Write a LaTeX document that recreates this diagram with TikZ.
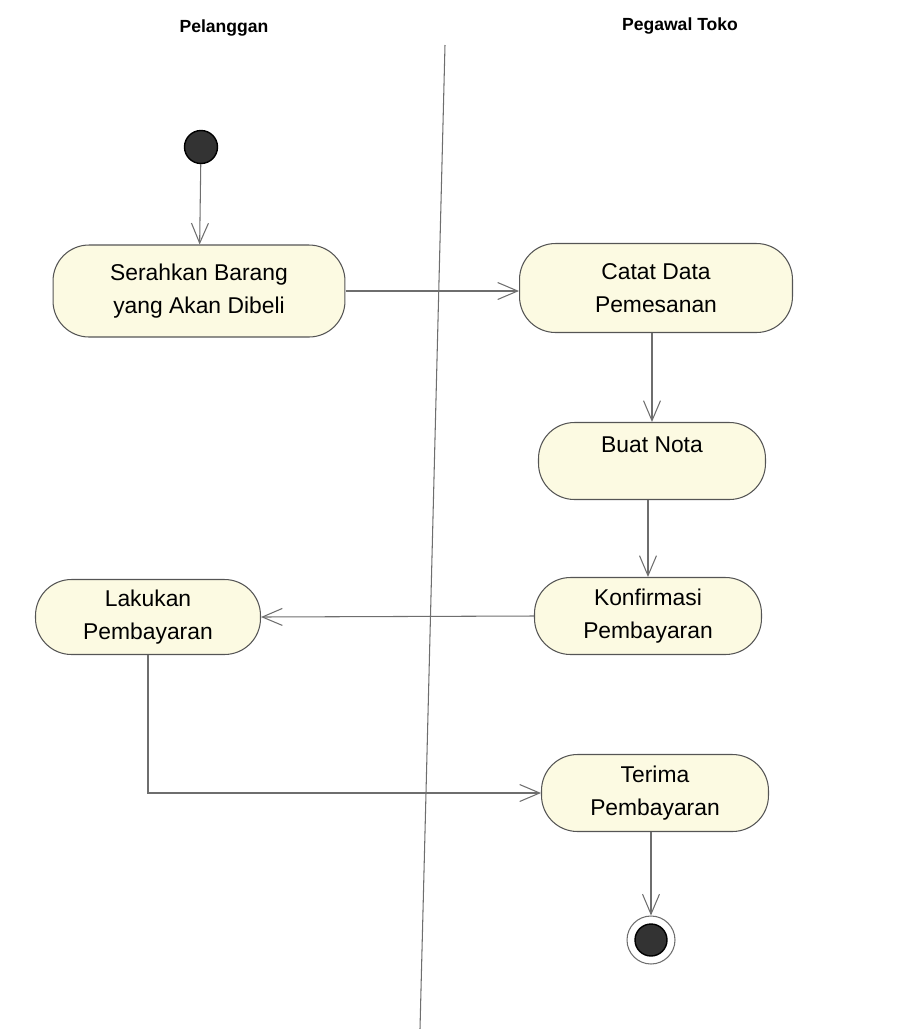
\documentclass[tikz,border=0pt]{standalone}
\usepackage{fontspec}
\setmainfont{Liberation Sans}
\usetikzlibrary{arrows.meta}

\definecolor{actfill}{HTML}{FCFAE2}
\definecolor{actline}{HTML}{555555}
\definecolor{flowline}{HTML}{6E6E6E}

\tikzset{
    action/.style={draw=actline, fill=actfill, line width=0.6pt, rounded corners=0.72cm,
        align=center, inner sep=0pt, minimum width=4.54cm, minimum height=1.54cm,
        font=\fontsize{13}{18.7}\selectfont},
    lane/.style={font=\fontsize{10}{12}\selectfont\bfseries},
    flow/.style={draw=flowline, line width=0.6pt, -{Straight Barb[length=4mm,width=3.4mm]}},
}

\begin{document}
\begin{tikzpicture}[x=0.02cm, y=-0.02cm]
    \useasboundingbox (0,0) rectangle (903,1029);

    \node[lane] (pelanggan) at (224,28) {Pelanggan};
    \node[lane] (pegawai) at (680,26) {Pegawal Toko};
    \draw[flowline, line width=0.6pt] (445,45) -- (420,1029);

    \node[circle, draw=black, fill=black!80, line width=0.8pt, minimum size=0.66cm, inner sep=0pt] (start) at (201,147) {};

    \node[action, minimum width=5.84cm, minimum height=1.84cm] (serahkan) at (199,291) {Serahkan Barang\\yang Akan Dibeli};
    \node[action, minimum width=5.46cm, minimum height=1.78cm] (catat) at (656,288) {Catat Data\\Pemesanan};
    \node[action] (buat) at (652,461) {Buat Nota\\\mbox{}};
    \node[action] (konfirmasi) at (648,616) {Konfirmasi\\Pembayaran};
    \node[action, minimum width=4.5cm, minimum height=1.5cm] (lakukan) at (148,617) {Lakukan\\Pembayaran};
    \node[action] (terima) at (655,793) {Terima\\Pembayaran};

    \node[circle, draw=flowline, line width=0.6pt, minimum size=0.96cm, inner sep=0pt] (end) at (651,940) {};
    \node[circle, draw=black, fill=black!80, line width=0.8pt, minimum size=0.64cm, inner sep=0pt] (endin) at (end) {};

    \draw[flow] (start) -- (serahkan);
    \draw[flow] (serahkan.east) -- (catat.west |- serahkan.east);
    \draw[flow] (buat.north |- catat.south) -- (buat.north);
    \draw[flow] (konfirmasi.north |- buat.south) -- (konfirmasi.north);
    \draw[flow] (konfirmasi.west) -- (lakukan.east);
    \draw[flow] (lakukan.south) |- (terima.west);
    \draw[flow] (end |- terima.south) -- (end);
\end{tikzpicture}
\end{document}
